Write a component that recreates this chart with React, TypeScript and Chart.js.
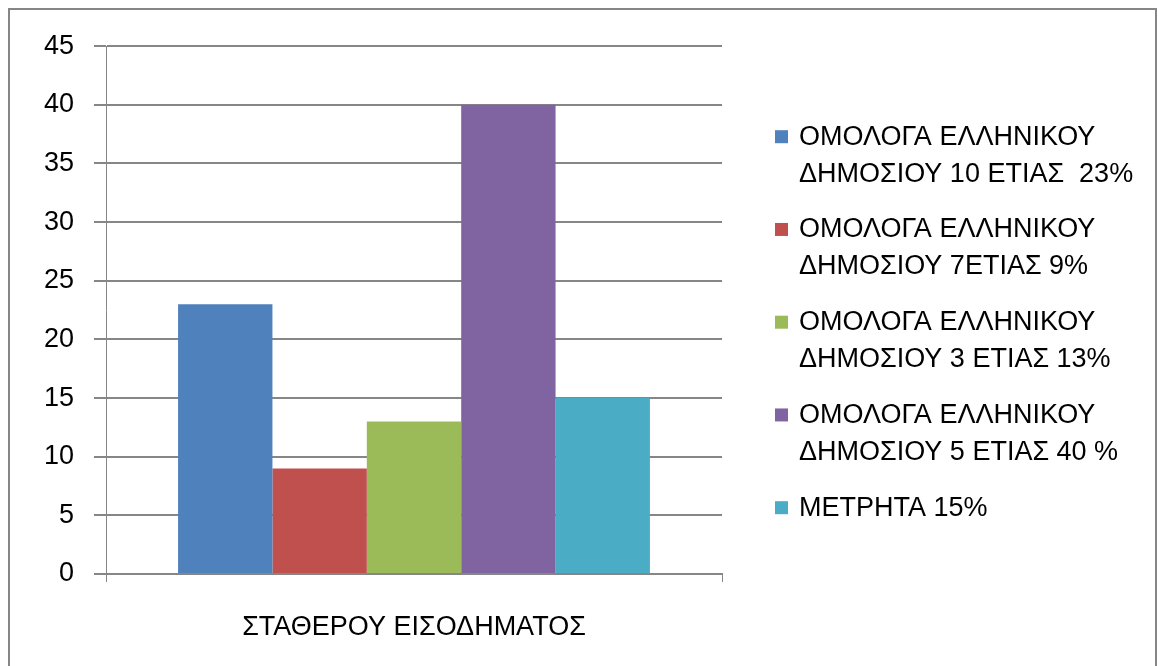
import React, { useEffect, useRef } from "react";
import { Chart, registerables } from "chart.js";

Chart.register(...registerables);

const categories = ["ΣΤΑΘΕΡΟΥ ΕΙΣΟΔΗΜΑΤΟΣ"];
const seriesNames = [
  "ΟΜΟΛΟΓΑ ΕΛΛΗΝΙΚΟΥ ΔΗΜΟΣΙΟΥ 10 ΕΤΙΑΣ  23%",
  "ΟΜΟΛΟΓΑ ΕΛΛΗΝΙΚΟΥ ΔΗΜΟΣΙΟΥ 7ΕΤΙΑΣ 9%",
  "ΟΜΟΛΟΓΑ ΕΛΛΗΝΙΚΟΥ ΔΗΜΟΣΙΟΥ 3 ΕΤΙΑΣ 13%",
  "ΟΜΟΛΟΓΑ ΕΛΛΗΝΙΚΟΥ ΔΗΜΟΣΙΟΥ 5 ΕΤΙΑΣ 40 %",
  "ΜΕΤΡΗΤΑ 15%",
];
const legendLines = [
  ["ΟΜΟΛΟΓΑ ΕΛΛΗΝΙΚΟΥ", "ΔΗΜΟΣΙΟΥ 10 ΕΤΙΑΣ  23%"],
  ["ΟΜΟΛΟΓΑ ΕΛΛΗΝΙΚΟΥ", "ΔΗΜΟΣΙΟΥ 7ΕΤΙΑΣ 9%"],
  ["ΟΜΟΛΟΓΑ ΕΛΛΗΝΙΚΟΥ", "ΔΗΜΟΣΙΟΥ 3 ΕΤΙΑΣ 13%"],
  ["ΟΜΟΛΟΓΑ ΕΛΛΗΝΙΚΟΥ", "ΔΗΜΟΣΙΟΥ 5 ΕΤΙΑΣ 40 %"],
  ["ΜΕΤΡΗΤΑ 15%"],
];
const seriesValues = [[23], [9], [13], [40], [15]];
const seriesColors = ["#4F81BD", "#C0504D", "#9BBB59", "#8064A2", "#4BACC6"];
const yTicks = [0, 5, 10, 15, 20, 25, 30, 35, 40, 45];

const FONT = "'Liberation Sans', Arial, sans-serif";
const GRID = "#868686";

const legendPlugin = {
  id: "sideLegend",
  afterDraw(chart: any) {
    const ctx = chart.ctx;
    const area = chart.chartArea;
    const x0 = area.right + 53;
    let y = area.top + 91;
    ctx.save();
    ctx.font = `27px ${FONT}`;
    ctx.textBaseline = "middle";
    ctx.fillStyle = "#000";
    chart.data.datasets.forEach((ds: any, i: number) => {
      const lines = legendLines[i];
      ctx.fillStyle = ds.backgroundColor;
      ctx.fillRect(x0, y - 7, 13, 13);
      ctx.fillStyle = "#000";
      lines.forEach((ln, j) => ctx.fillText(ln, x0 + 24, y + j * 37));
      y += 92.75;
    });
    ctx.restore();
  },
};

export default function App() {
  const ref = useRef<HTMLCanvasElement>(null);
  useEffect(() => {
    if (!ref.current) return;
    const chart = new Chart(ref.current, {
      type: "bar",
      data: {
        labels: categories,
        datasets: seriesNames.map((name, i) => ({
          label: name,
          data: seriesValues[i],
          backgroundColor: seriesColors[i],
          borderWidth: 0,
          barPercentage: 1,
          categoryPercentage: 0.766,
        })),
      },
      options: {
        responsive: false,
        animation: false,
        layout: { padding: { top: 34, right: 433, bottom: 0, left: 0 } },
        plugins: { legend: { display: false }, tooltip: { enabled: false } },
        scales: {
          x: {
            grid: { drawOnChartArea: false, drawTicks: true, tickLength: 8, color: GRID, lineWidth: 1 },
            border: { display: true, color: GRID, width: 2 },
            ticks: { font: { family: FONT, size: 27 }, color: "#000", padding: 29 },
            afterFit(scale: any) {
              scale.height = 92;
            },
          },
          y: {
            min: 0,
            max: 45,
            afterBuildTicks(scale: any) {
              scale.ticks = yTicks.map((v) => ({ value: v }));
            },
            grid: { color: GRID, lineWidth: 2, tickLength: 12 },
            border: { display: true, color: GRID, width: 1 },
            ticks: { font: { family: FONT, size: 27 }, color: "#000", padding: 20 },
            afterFit(scale: any) {
              scale.width = 96;
            },
          },
        },
      },
      plugins: [legendPlugin],
    });
    return () => chart.destroy();
  }, []);
  return (
    <div
      style={{
        position: "fixed",
        left: 8,
        top: 8,
        width: 1149,
        height: 680,
        border: `2px solid ${GRID}`,
        boxSizing: "border-box",
        background: "#fff",
      }}
    >
      <canvas ref={ref} width={1145} height={656} style={{ display: "block", width: 1145, height: 656 }} />
    </div>
  );
}
